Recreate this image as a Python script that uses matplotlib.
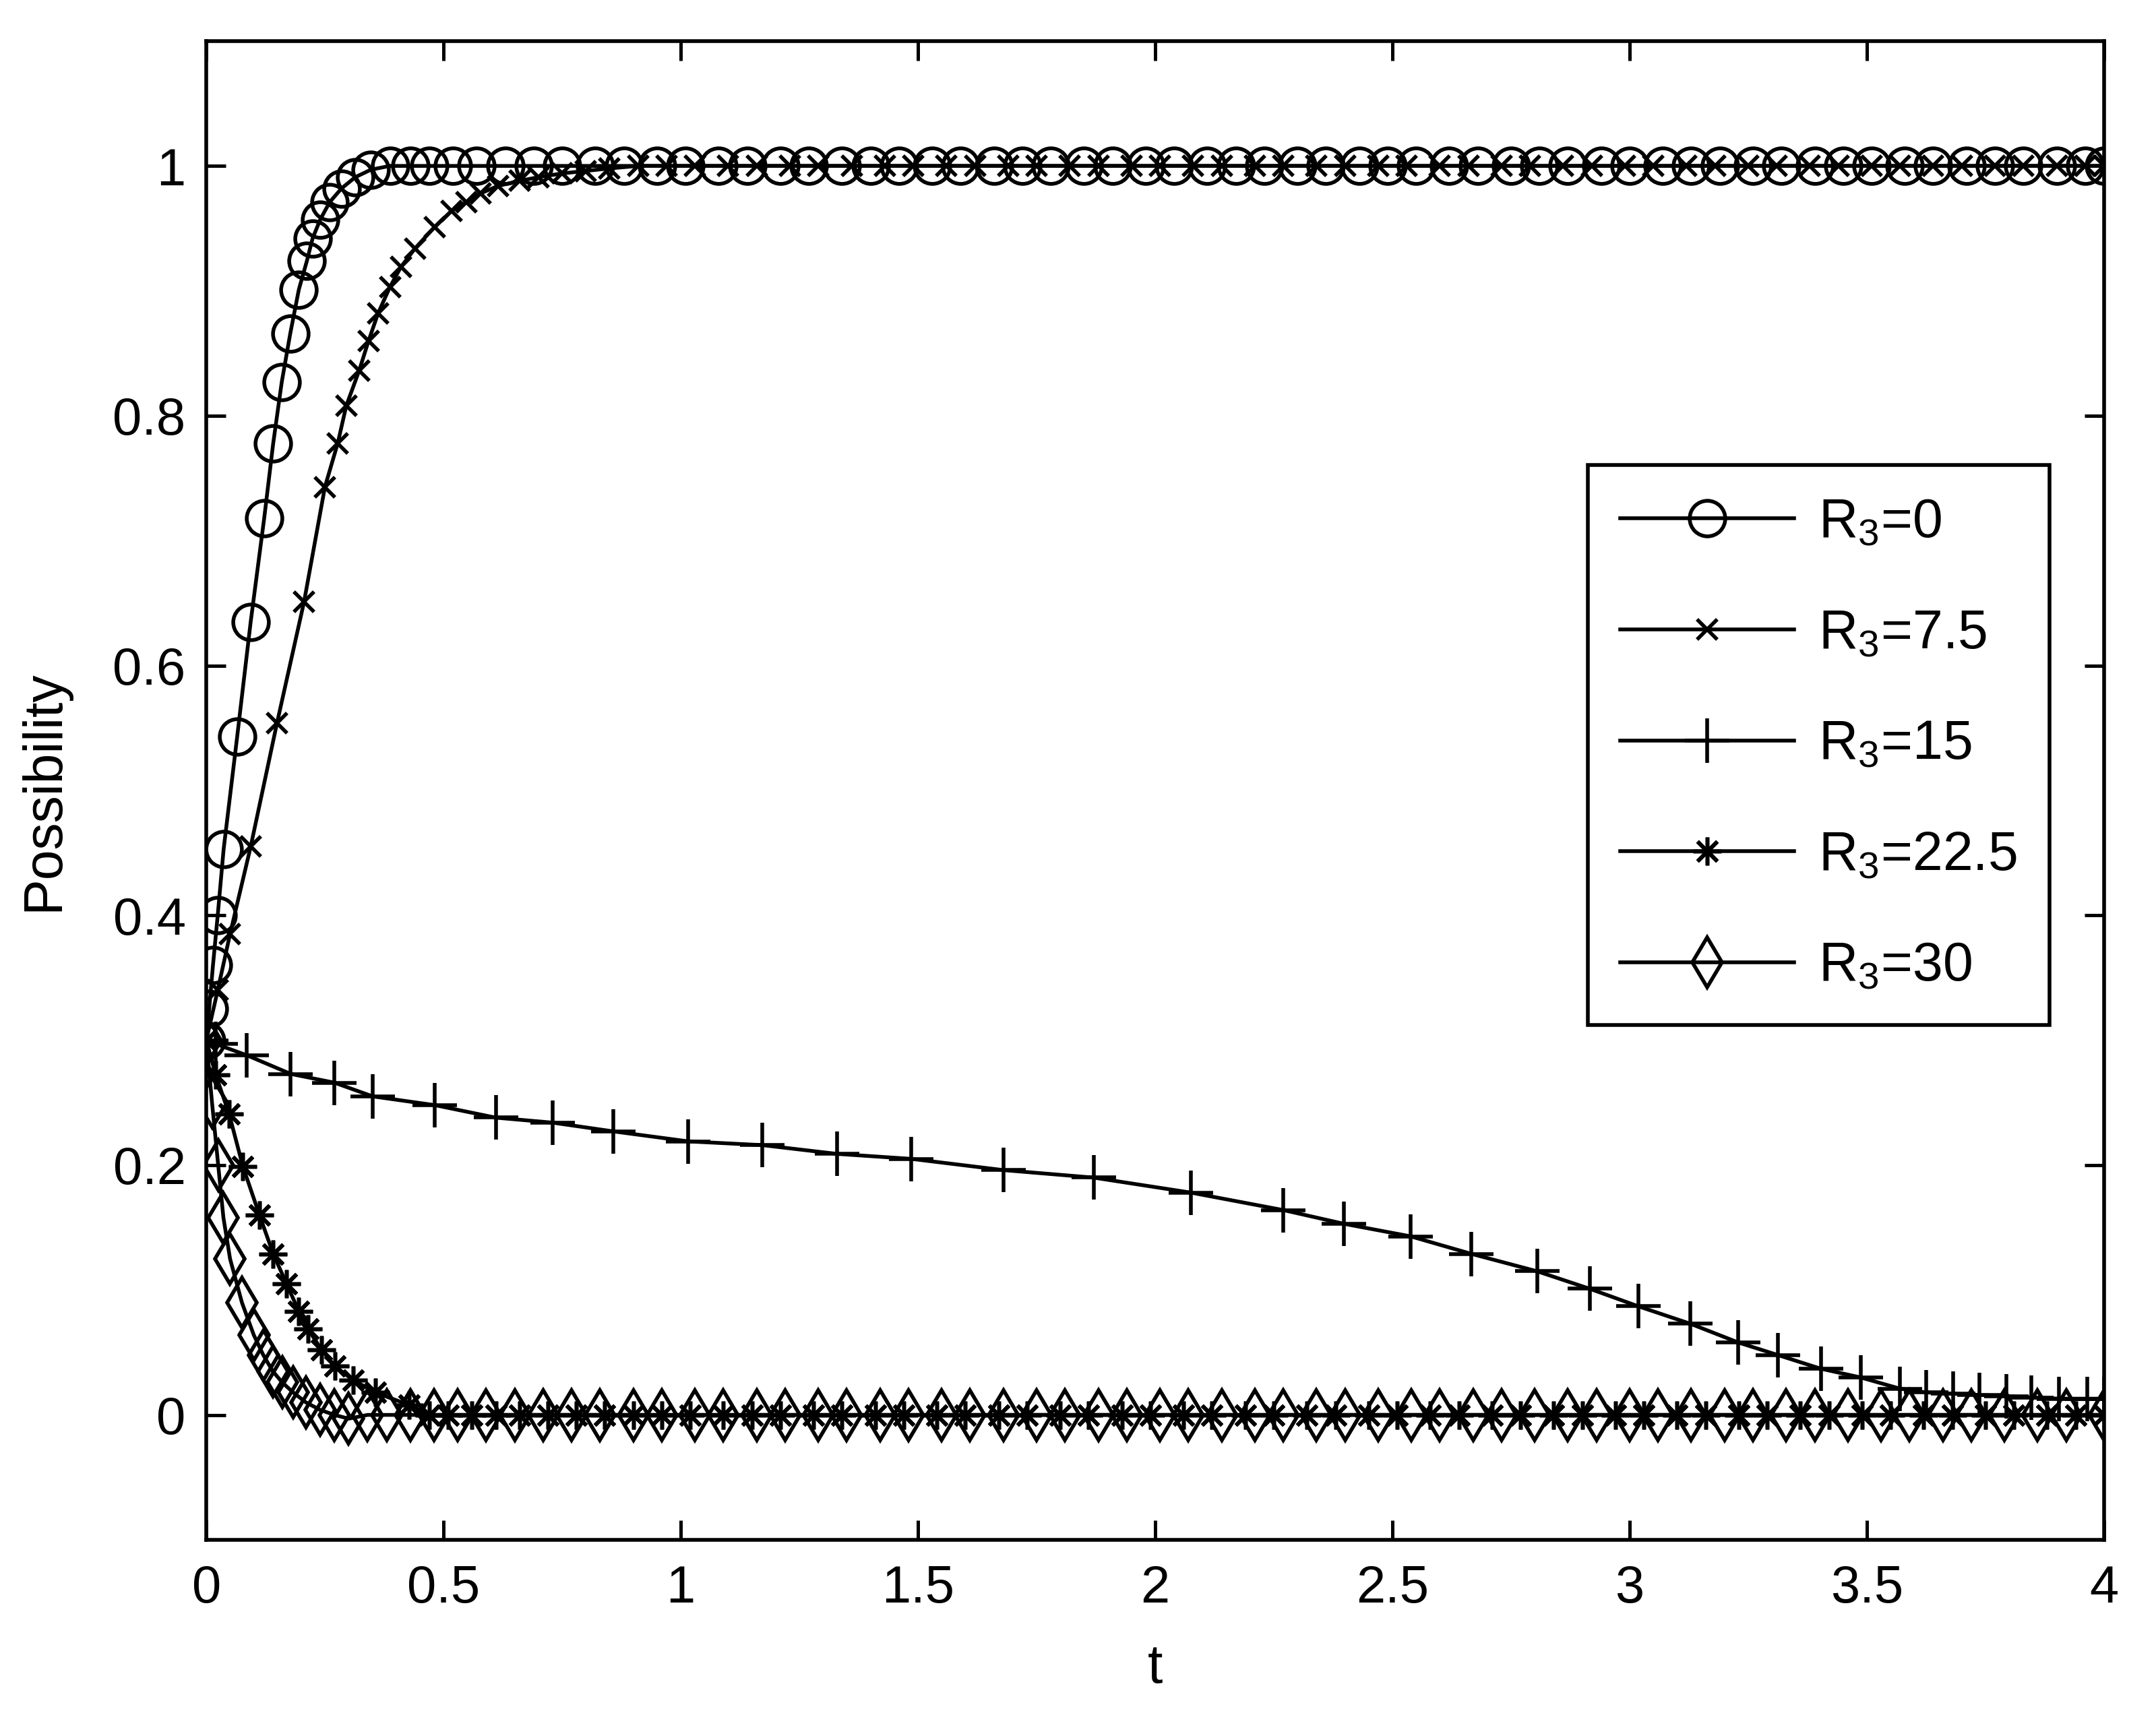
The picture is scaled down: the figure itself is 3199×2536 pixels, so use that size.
import numpy as np
import matplotlib
matplotlib.use('Agg')
import matplotlib.pyplot as plt

plt.rcParams['font.family'] = ['Liberation Sans', 'DejaVu Sans']
plt.rcParams['mathtext.default'] = 'regular'

# values (t, possibility) at the solver output points
# R3 = 0 : fast rise to 1
r0_t = [0.0, 0.006, 0.014, 0.024, 0.0365, 0.065, 0.0935, 0.122, 0.141, 0.159, 0.177,
        0.195, 0.212, 0.224, 0.24, 0.26, 0.285, 0.314, 0.347, 0.387]
r0_y = [0.30, 0.325, 0.36, 0.40, 0.453, 0.543, 0.635, 0.718, 0.778, 0.827, 0.866,
        0.901, 0.924, 0.942, 0.957, 0.971, 0.982, 0.991, 0.997, 1.0]
r0_flat_t = [0.43, 0.47, 0.52, 0.57, 0.63, 0.69, 0.75, 0.82, 0.88, 0.95, 1.01, 1.08, 1.14,
             1.21, 1.27, 1.34, 1.40, 1.46, 1.53, 1.59, 1.66, 1.72, 1.78, 1.85, 1.91, 1.98,
             2.04, 2.11, 2.17, 2.23, 2.30, 2.36, 2.43, 2.49, 2.55, 2.62, 2.68, 2.75, 2.81,
             2.87, 2.94, 3.00, 3.07, 3.13, 3.19, 3.26, 3.32, 3.39, 3.45, 3.51, 3.58, 3.64,
             3.71, 3.77, 3.83, 3.90, 3.96, 4.00]
r0_level = 1.0

# R3 = 7.5 : slower rise to 1
r75_t = [0.0, 0.024, 0.05, 0.0935, 0.149, 0.206, 0.25, 0.277, 0.295, 0.322, 0.342, 0.362,
         0.387, 0.41, 0.44, 0.481, 0.517, 0.548, 0.578, 0.615, 0.66, 0.70, 0.75, 0.80, 0.85]
r75_y = [0.30, 0.34, 0.385, 0.455, 0.554, 0.651, 0.743, 0.778, 0.808, 0.836, 0.86, 0.882,
         0.903, 0.919, 0.934, 0.951, 0.964, 0.971, 0.978, 0.984, 0.988, 0.991, 0.994, 0.996, 0.998]
r75_flat_t = [0.91, 0.97, 1.03, 1.10, 1.16, 1.23, 1.29, 1.36, 1.43, 1.49, 1.56, 1.62, 1.69,
              1.75, 1.82, 1.88, 1.95, 2.01, 2.08, 2.14, 2.21, 2.27, 2.34, 2.40, 2.47, 2.53,
              2.60, 2.66, 2.73, 2.79, 2.86, 2.92, 2.99, 3.05, 3.12, 3.18, 3.25, 3.31, 3.38,
              3.44, 3.51, 3.57, 3.64, 3.70, 3.77, 3.83, 3.90, 3.96, 4.00]
r75_level = 1.0

# R3 = 15 : slow decline to 0
r15_t = [0.0, 0.02, 0.085, 0.178, 0.27, 0.351, 0.482, 0.61, 0.73, 0.858, 1.016, 1.172,
         1.329, 1.486, 1.68, 1.87, 2.075, 2.27, 2.398, 2.538, 2.666, 2.805, 2.916, 3.018,
         3.128, 3.229, 3.312, 3.403, 3.487, 3.57, 3.625, 3.682, 3.737, 3.794, 3.847, 3.905,
         3.964, 4.0]
r15_y = [0.30, 0.297, 0.288, 0.273, 0.266, 0.255, 0.248, 0.238, 0.234, 0.227, 0.219, 0.216,
         0.209, 0.205, 0.196, 0.19, 0.178, 0.164, 0.153, 0.143, 0.129, 0.115, 0.101, 0.087,
         0.073, 0.058, 0.048, 0.037, 0.03, 0.021, 0.018, 0.017, 0.016, 0.015, 0.014, 0.013,
         0.013, 0.013]

# R3 = 22.5 : fast decline to 0
r225_t = [0.0, 0.02, 0.048, 0.077, 0.112, 0.141, 0.169, 0.195, 0.214, 0.243, 0.271, 0.309,
          0.356, 0.427]
r225_y = [0.30, 0.272, 0.241, 0.199, 0.16, 0.129, 0.105, 0.083, 0.069, 0.052, 0.039, 0.028,
          0.018, 0.008]
r225_flat_t = [0.47, 0.51, 0.56, 0.61, 0.66, 0.72, 0.78, 0.84, 0.90, 0.96, 1.02, 1.09, 1.15,
               1.21, 1.28, 1.34, 1.41, 1.47, 1.54, 1.60, 1.67, 1.73, 1.80, 1.86, 1.93, 1.99,
               2.06, 2.12, 2.19, 2.25, 2.32, 2.38, 2.45, 2.51, 2.58, 2.64, 2.71, 2.77, 2.84,
               2.90, 2.97, 3.03, 3.10, 3.16, 3.23, 3.29, 3.36, 3.42, 3.49, 3.55, 3.62, 3.68,
               3.75, 3.81, 3.88, 3.94, 4.00]
r225_level = 0.0

# R3 = 30 : fastest decline, slight undershoot
r30_t = [0.0, 0.012, 0.025, 0.036, 0.05, 0.075, 0.1, 0.12, 0.14, 0.16, 0.183, 0.21, 0.24,
         0.27, 0.30]
r30_y = [0.30, 0.25, 0.20, 0.158, 0.125, 0.09, 0.064, 0.048, 0.035, 0.026, 0.018, 0.01,
         0.004, 0.0, -0.003]
r30_flat_t = [0.34, 0.38, 0.43, 0.48, 0.53, 0.59, 0.65, 0.71, 0.77, 0.83, 0.90, 0.96, 1.03,
              1.09, 1.16, 1.22, 1.29, 1.35, 1.42, 1.48, 1.55, 1.61, 1.68, 1.75, 1.81, 1.88,
              1.94, 2.01, 2.07, 2.14, 2.21, 2.27, 2.34, 2.40, 2.47, 2.54, 2.60, 2.67, 2.73,
              2.80, 2.87, 2.93, 3.00, 3.06, 3.13, 3.20, 3.26, 3.33, 3.39, 3.46, 3.53, 3.59,
              3.66, 3.72, 3.79, 3.86, 3.92, 4.00]
r30_level = 0.0

labels = ['R$_3$=0', 'R$_3$=7.5', 'R$_3$=15', 'R$_3$=22.5', 'R$_3$=30']

x_ticks = [0, 0.5, 1, 1.5, 2, 2.5, 3, 3.5, 4]
y_ticks = [0, 0.2, 0.4, 0.6, 0.8, 1]

series = [
    (np.r_[r0_t, r0_flat_t], np.r_[r0_y, np.full(len(r0_flat_t), r0_level)], 'o', 19),
    (np.r_[r75_t, r75_flat_t], np.r_[r75_y, np.full(len(r75_flat_t), r75_level)], 'x', 11),
    (np.array(r15_t), np.array(r15_y), '+', 24),
    (np.r_[r225_t, r225_flat_t], np.r_[r225_y, np.full(len(r225_flat_t), r225_level)], (8, 2, 0), 15),
    (np.r_[r30_t, r30_flat_t], np.r_[r30_y, np.full(len(r30_flat_t), r30_level)], 'd', 19),
]

fig = plt.figure(figsize=(15.995, 12.68), dpi=200)
ax = fig.add_axes([0.0957, 0.099, 0.8802, 0.877])

for (t, y, mk, ms), lab in zip(series, labels):
    ax.plot(t, y, color='black', lw=2.0, marker=mk, ms=ms, mfc='none', mec='black', mew=2.0,
            label=lab)

ax.set_xlim(0, 4)
ax.set_ylim(-0.1, 1.1)
ax.set_xticks(x_ticks)
ax.set_xticklabels([f'{v:g}' for v in x_ticks])
ax.set_yticks(y_ticks)
ax.set_yticklabels([f'{v:g}' for v in y_ticks])
ax.tick_params(direction='in', length=10.5, width=1.8, labelsize=28, top=True, right=True)
ax.tick_params(axis='x', pad=13)
ax.tick_params(axis='y', pad=11)
for s in ax.spines.values():
    s.set_linewidth(2.0)

ax.set_xlabel('t', fontsize=29, labelpad=16)
ax.set_ylabel('Possibility', fontsize=29, labelpad=23)

leg = ax.legend(loc='upper left', bbox_to_anchor=(0.728, 0.717), fontsize=29,
                handlelength=3.2, handletextpad=0.45, labelspacing=1.1, borderpad=0.6,
                borderaxespad=0, fancybox=False, framealpha=1, edgecolor='black')
leg.get_frame().set_linewidth(2.0)

fig.savefig('out.png', dpi=200, facecolor='white')
